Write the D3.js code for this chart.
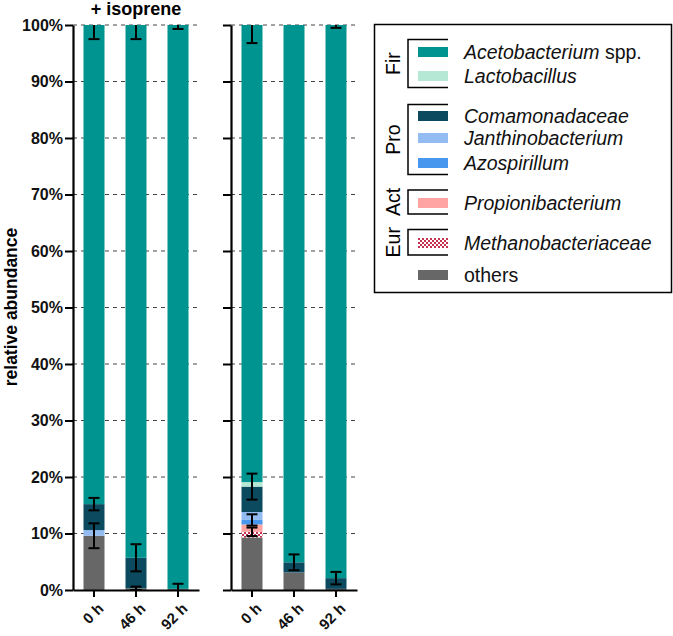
<!DOCTYPE html>
<html>
<head>
<meta charset="utf-8">
<script src="https://cdn.jsdelivr.net/npm/d3@7"></script>
<style>
  body { margin: 0; background: #fff; }
  svg { font-family: Arial, "Liberation Sans", sans-serif; }
</style>
</head>
<body>
<svg width="673" height="636"></svg>
<script>
'use strict';

// samples: left panel (+ isoprene) and right panel
var timepoints = ['0 h', '46 h', '92 h'];
var panels = ['iso', 'ctrl'];

// segment values (%) per sample: [iso 0h, iso 46h, iso 92h, ctrl 0h, ctrl 46h, ctrl 92h]
var others        = [9.6, 0.3, 0.2, 9.3, 3.1, 0.2];
var methano       = [0, 0, 0, 1.0, 0, 0];
var propioni      = [0, 0, 0, 1.3, 0, 0];
var azospirillum  = [0, 0, 0, 0.8, 0, 0];
var janthino      = [1.0, 0, 0, 1.4, 0, 0];
var comamonad     = [4.6, 5.4, 0, 4.5, 1.8, 1.9];
var lactobacillus = [0, 0, 0, 0.8, 0, 0];
var acetobact     = [84.8, 94.3, 99.8, 80.9, 95.1, 97.9];

// error bars (SD, %) drawn at the top of each segment
var othersErr    = [2.2, 0.3, 0.9, 0, 0, 0];
var methanoErr   = [0, 0, 0, 0.75, 0, 0];
var azoErr       = [0, 0, 0, 1.0, 0, 0];
var comamErr     = [1.1, 2.4, 0, 2.3, 1.4, 1.1];
var acetoErr     = [2.5, 2.5, 0.7, 3.2, 0, 0.5];

var yTicks = [0, 10, 20, 30, 40, 50, 60, 70, 80, 90, 100];

var series = [
  {key: 'others', vals: others, err: othersErr, color: '#676767'},
  {key: 'Methanobacteriaceae', vals: methano, err: methanoErr, color: 'url(#checker)'},
  {key: 'Propionibacterium', vals: propioni, err: null, color: '#ffa3a3'},
  {key: 'Azospirillum', vals: azospirillum, err: azoErr, color: '#4797ef'},
  {key: 'Janthinobacterium', vals: janthino, err: null, color: '#92bcf2'},
  {key: 'Comamonadaceae', vals: comamonad, err: comamErr, color: '#0c4b5f'},
  {key: 'Lactobacillus', vals: lactobacillus, err: null, color: '#b5e8d5'},
  {key: 'Acetobacterium', vals: acetobact, err: acetoErr, color: '#009490'}
];

var svg = d3.select('svg');

// checker pattern for Methanobacteriaceae
var defs = svg.append('defs');
var pat = defs.append('pattern')
    .attr('id', 'checker')
    .attr('width', 4).attr('height', 4)
    .attr('patternUnits', 'userSpaceOnUse');
pat.append('rect').attr('width', 4).attr('height', 4).attr('fill', '#fff');
pat.append('rect').attr('width', 2).attr('height', 2).attr('fill', '#c4324f');
pat.append('rect').attr('x', 2).attr('y', 2).attr('width', 2).attr('height', 2).attr('fill', '#c4324f');

var y = d3.scaleLinear().domain([0, 100]).range([590, 25]);

var panelX = {
  iso: d3.scaleBand().domain(timepoints).range([73, 199]).paddingInner(0.5).paddingOuter(0.25),
  ctrl: d3.scaleBand().domain(timepoints).range([231, 357]).paddingInner(0.5).paddingOuter(0.25)
};

// build stacked rows
var rows = [];
panels.forEach(function(p, pi){
  timepoints.forEach(function(t, ti){
    var idx = pi * 3 + ti;
    var r = {panel: p, time: t};
    series.forEach(function(s){ r[s.key] = s.vals[idx]; });
    rows.push(r);
  });
});
var stack = d3.stack().keys(series.map(function(s){ return s.key; }));
var stacked = stack(rows);

panels.forEach(function(p){
  var x = panelX[p];
  var g = svg.append('g');

  // dashed grid
  g.selectAll('line.grid')
    .data(yTicks.slice(1))
    .enter().append('line')
      .attr('x1', x.range()[0]).attr('x2', x.range()[1])
      .attr('y1', function(d){ return y(d); })
      .attr('y2', function(d){ return y(d); })
      .attr('stroke', '#444')
      .attr('stroke-width', 1)
      .attr('stroke-dasharray', '4,4');

  // bars
  stacked.forEach(function(layer, li){
    g.selectAll(null)
      .data(layer.filter(function(d){ return d.data.panel === p && d[1] - d[0] > 0; }))
      .enter().append('rect')
        .attr('x', function(d){ return x(d.data.time); })
        .attr('width', x.bandwidth())
        .attr('y', function(d){ return y(d[1]); })
        .attr('height', function(d){ return y(d[0]) - y(d[1]); })
        .attr('fill', series[li].color);
  });

  // error bars
  stacked.forEach(function(layer, li){
    var s = series[li];
    if (!s.err) return;
    layer.forEach(function(d, i){
      if (d.data.panel !== p || !s.err[i]) return;
      var cx = x(d.data.time) + x.bandwidth() / 2;
      var top = Math.min(100, d[1] + s.err[i]);
      var bot = Math.max(0, d[1] - s.err[i]);
      var eg = g.append('g').attr('stroke', '#000').attr('stroke-width', 2);
      eg.append('line').attr('x1', cx).attr('x2', cx).attr('y1', y(top)).attr('y2', y(bot));
      if (d[1] + s.err[i] <= 100)
        eg.append('line').attr('x1', cx - 5.5).attr('x2', cx + 5.5).attr('y1', y(top)).attr('y2', y(top));
      if (d[1] - s.err[i] >= 0)
        eg.append('line').attr('x1', cx - 5.5).attr('x2', cx + 5.5).attr('y1', y(bot)).attr('y2', y(bot));
    });
  });

  // y axis
  var yAxis = d3.axisLeft(y).tickValues(yTicks).tickSize(8).tickSizeOuter(0)
      .tickFormat(p === 'iso' ? function(d){ return d + '%'; } : '');
  var ya = svg.append('g').attr('transform', 'translate(' + x.range()[0] + ',0)').call(yAxis);
  ya.select('.domain').attr('stroke-width', 2.2);
  ya.selectAll('.tick line').attr('stroke-width', 2);
  ya.selectAll('.tick text').attr('font-size', 16).attr('font-weight', 'bold')
    .attr('font-family', 'Arial, "Liberation Sans", sans-serif').attr('fill', '#111').attr('x', -10);

  // x axis
  var xAxis = d3.axisBottom(x).tickSize(7).tickSizeOuter(0);
  var xa = svg.append('g').attr('transform', 'translate(0,' + y(0) + ')').call(xAxis);
  xa.select('.domain').attr('stroke-width', 2.2);
  xa.selectAll('.tick line').attr('stroke-width', 2);
  xa.selectAll('.tick text')
    .attr('font-size', 15).attr('font-weight', 'bold')
    .attr('font-family', 'Arial, "Liberation Sans", sans-serif').attr('fill', '#111')
    .attr('text-anchor', 'end')
    .attr('x', 0).attr('y', 0).attr('dy', '0.7em')
    .attr('transform', 'translate(3,12) rotate(-45)');
});

// title and y label
svg.append('text')
  .attr('x', 136).attr('y', 15)
  .attr('text-anchor', 'middle')
  .attr('font-size', 18).attr('font-weight', 'bold')
  .text('+ isoprene');

svg.append('text')
  .attr('transform', 'translate(17,307) rotate(-90)')
  .attr('text-anchor', 'middle')
  .attr('font-size', 17.5).attr('font-weight', 'bold')
  .text('relative abundance');

// legend
var legendItems = [
  {name: 'Acetobacterium', extra: ' spp.', color: '#009490', y: 52},
  {name: 'Lactobacillus', extra: '', color: '#b5e8d5', y: 76},
  {name: 'Comamonadaceae', extra: '', color: '#0c4b5f', y: 116},
  {name: 'Janthinobacterium', extra: '', color: '#92bcf2', y: 138},
  {name: 'Azospirillum', extra: '', color: '#4797ef', y: 163},
  {name: 'Propionibacterium', extra: '', color: '#ffa3a3', y: 203},
  {name: 'Methanobacteriaceae', extra: '', color: 'url(#checker)', y: 243},
  {name: 'others', extra: '', color: '#676767', y: 275, plain: true}
];
var legendGroups = [
  {label: 'Fir', y1: 39.5, y2: 87.5},
  {label: 'Pro', y1: 104.5, y2: 174.5},
  {label: 'Act', y1: 190, y2: 214},
  {label: 'Eur', y1: 229.5, y2: 255}
];

var lg = svg.append('g');
lg.append('rect')
  .attr('x', 374.5).attr('y', 24.5).attr('width', 297).attr('height', 268)
  .attr('fill', 'none').attr('stroke', '#000').attr('stroke-width', 1.5);

lg.selectAll('path.bracket')
  .data(legendGroups)
  .enter().append('path')
    .attr('d', function(d){ return 'M448,' + d.y1 + 'H408V' + d.y2 + 'H448'; })
    .attr('fill', 'none').attr('stroke', '#000').attr('stroke-width', 1.5);

lg.selectAll('text.grp')
  .data(legendGroups)
  .enter().append('text')
    .attr('transform', function(d){ return 'translate(400,' + (d.y1 + d.y2) / 2 + ') rotate(-90)'; })
    .attr('text-anchor', 'middle')
    .attr('font-size', 19.5)
    .text(function(d){ return d.label; });

lg.selectAll('rect.sw')
  .data(legendItems)
  .enter().append('rect')
    .attr('x', 418).attr('y', function(d){ return d.y - 5; })
    .attr('width', 30).attr('height', 10)
    .attr('fill', function(d){ return d.color; });

var lt = lg.selectAll('text.it')
  .data(legendItems)
  .enter().append('text')
    .attr('x', 464).attr('y', function(d){ return d.y + 7; })
    .attr('font-size', 19.5).attr('fill', '#111');
lt.append('tspan')
  .attr('font-style', function(d){ return d.plain ? 'normal' : 'italic'; })
  .text(function(d){ return d.name; });
lt.append('tspan').text(function(d){ return d.extra; });
</script>
</body>
</html>
